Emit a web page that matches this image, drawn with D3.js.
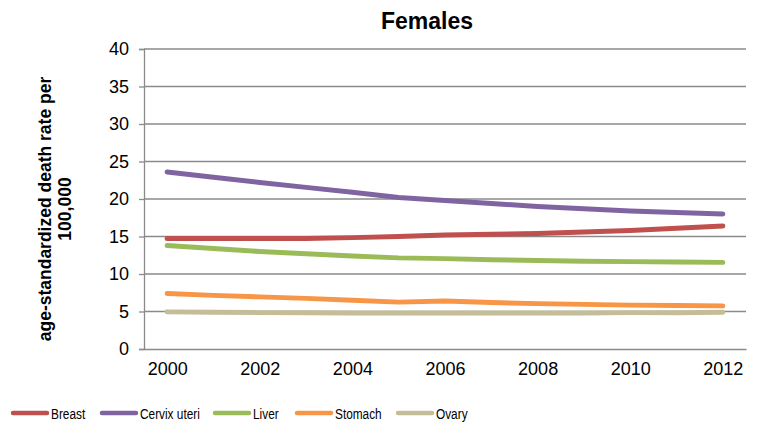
<!DOCTYPE html>
<html>
<head>
<meta charset="utf-8">
<script src="https://cdn.jsdelivr.net/npm/d3@7"></script>
<style>
  html, body { margin: 0; padding: 0; background: #fff; }
  svg { display: block; }
</style>
</head>
<body>
<svg id="chart" width="763" height="425"></svg>
<script>
const years = [2000,2001,2002,2003,2004,2005,2006,2007,2008,2009,2010,2011,2012];
const xTickLabels = [2000,2002,2004,2006,2008,2010,2012];
const yTicks = [0,5,10,15,20,25,30,35,40];
const seriesNames = ["Breast","Cervix uteri","Liver","Stomach","Ovary"];
const breast = [14.75,14.75,14.75,14.75,14.85,15.0,15.2,15.3,15.4,15.6,15.8,16.1,16.4];
const cervix = [23.6,22.9,22.2,21.55,20.9,20.2,19.8,19.4,19.0,18.7,18.4,18.2,18.0];
const liver = [13.8,13.4,13.0,12.7,12.4,12.15,12.05,11.9,11.8,11.7,11.65,11.6,11.55];
const stomach = [7.4,7.15,6.95,6.75,6.5,6.25,6.4,6.2,6.05,5.95,5.85,5.8,5.75];
const ovary = [4.95,4.9,4.85,4.85,4.8,4.8,4.8,4.8,4.8,4.8,4.85,4.85,4.9];
const colors = ["#C0504D","#8064A2","#9BBB59","#F79646","#C4BD97"];

(function () {
const seriesValues = [breast, cervix, liver, stomach, ovary];
const series = seriesNames.map((n, i) => ({name: n, values: seriesValues[i], color: colors[i]}));

const svg = d3.select("#chart");
const pLeft = 144, pRight = 746, pTop = 49, pBottom = 349;

const x = d3.scalePoint().domain(years).range([pLeft, pRight]).padding(0.5);
const y = d3.scaleLinear().domain([0, 40]).range([pBottom, pTop]);

const gridColor = "#8a8a8a";

// gridlines
svg.append("g").selectAll("line").data(yTicks.filter(d => d > 0)).join("line")
  .attr("x1", pLeft).attr("x2", pRight)
  .attr("y1", d => y(d)).attr("y2", d => y(d))
  .attr("stroke", gridColor).attr("stroke-width", 1.3);

// y axis
const yAxis = svg.append("g").attr("transform", `translate(${pLeft},0)`)
  .call(d3.axisLeft(y).tickValues(yTicks).tickSize(5).tickPadding(10));
yAxis.select(".domain").attr("stroke", gridColor).attr("stroke-width", 1.3);
yAxis.selectAll(".tick line").attr("stroke", gridColor).attr("stroke-width", 1.3);
yAxis.selectAll(".tick text").attr("font-family", "Liberation Sans, Arial, sans-serif")
  .attr("font-size", 18).attr("fill", "#000");

// x axis
const xAxis = svg.append("g").attr("transform", `translate(0,${pBottom})`)
  .call(d3.axisBottom(x).tickValues(xTickLabels).tickSize(0).tickPadding(13).tickSizeOuter(0));
xAxis.select(".domain").attr("stroke", gridColor).attr("stroke-width", 1.3);
xAxis.selectAll(".tick text").attr("font-family", "Liberation Sans, Arial, sans-serif")
  .attr("font-size", 18).attr("fill", "#000");

// lines
const line = d3.line().x((d, i) => x(years[i])).y(d => y(d));
svg.append("g").selectAll("path").data(series).join("path")
  .attr("d", d => line(d.values))
  .attr("fill", "none")
  .attr("stroke", d => d.color)
  .attr("stroke-width", 5)
  .attr("stroke-linecap", "round")
  .attr("stroke-linejoin", "round");

// title
svg.append("text").attr("x", 427).attr("y", 29).attr("text-anchor", "middle")
  .attr("font-family", "Liberation Sans, Arial, sans-serif").attr("font-weight", "bold")
  .attr("font-size", 23).text("Females");

// y label
const yl = svg.append("text").attr("transform", "translate(51,209) rotate(-90)")
  .attr("text-anchor", "middle")
  .attr("font-family", "Liberation Sans, Arial, sans-serif").attr("font-weight", "bold")
  .attr("font-size", 17.5);
yl.append("tspan").attr("x", 0).attr("y", 0).text("age-standardized death rate per");
yl.append("tspan").attr("x", 0).attr("y", 20).text("100,000");

// legend
const legendX = [11, 100, 213, 295, 396];
const lg = svg.append("g").selectAll("g").data(series).join("g")
  .attr("transform", (d, i) => `translate(${legendX[i]},413)`);
lg.append("line").attr("x1", 2).attr("x2", 36).attr("y1", 0).attr("y2", 0)
  .attr("stroke", d => d.color).attr("stroke-width", 4.5).attr("stroke-linecap", "round");
lg.append("text").attr("transform", "translate(40,5.5) scale(0.79,1)")
  .attr("font-family", "Liberation Sans, Arial, sans-serif")
  .attr("font-size", 15).attr("fill", "#000").text(d => d.name);
})();
</script>
</body>
</html>
